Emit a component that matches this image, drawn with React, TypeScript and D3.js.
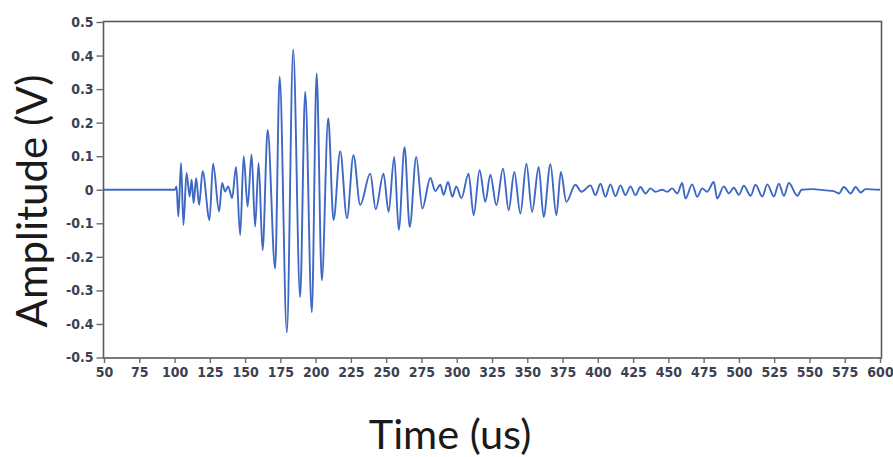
import * as d3 from "d3";
import React, { useEffect, useRef } from "react";

// turning points of the trace (time in us, amplitude in V)
const timeUs = [
  50, 100.3, 101.4, 102.7, 104.6, 106.3, 108.5, 110.7, 112.1, 113.5, 115.3, 117.4, 119.9,
  124.8, 127.3, 131.6, 133.7, 135.8, 138.0, 140.8, 143.6, 146.5, 149.0, 151.8, 154.6,
  157.1, 159.6, 162.4, 166.0, 171.3, 174.5, 179.6, 184.1, 189.0, 192.6, 197.3, 200.7,
  204.4, 208.9, 212.7, 217.4, 222.2, 226.8, 231.6, 238.7, 242.6, 248.1, 251.7, 255.7,
  258.9, 263.0, 266.7, 271.3, 275.6, 281.3, 284.8, 288.4, 290.7, 293.8, 296.9, 299.7,
  303.3, 308.4, 312.0, 316.2, 320.3, 323.8, 328.1, 332.8, 336.8, 340.8, 345.1, 349.4,
  353.4, 358.1, 361.6, 366.4, 370.6, 373.8, 377.7, 384.1, 388.4, 394.8, 398.3, 401.9,
  405.4, 408.9, 412.5, 416.0, 419.6, 423.1, 426.7, 430.2, 433.8, 437.3, 440.9, 445.6,
  449.2, 452.7, 456.3, 459.8, 462.1, 466.9, 470.4, 474.0, 477.5, 482.2, 484.6, 489.3,
  492.9, 496.4, 500.0, 503.5, 508.3, 511.8, 516.6, 520.1, 524.8, 528.3, 531.9, 535.4,
  541.4, 544.4, 552.2, 561.5, 567.1, 570.9, 574.4, 579.2, 582.7, 586.3, 589.8, 600,
];
const amplitudeV = [
  0, 0, 0.01, -0.08, 0.08, -0.105, 0.05, -0.02, 0.03, -0.04, 0.035, -0.045, 0.055,
  -0.09, 0.078, -0.065, 0.02, -0.005, 0.01, -0.025, 0.068, -0.135, 0.1, -0.05, 0.105,
  -0.11, 0.08, -0.18, 0.178, -0.235, 0.337, -0.425, 0.418, -0.32, 0.292, -0.365, 0.347,
  -0.27, 0.213, -0.09, 0.115, -0.085, 0.103, -0.045, 0.048, -0.058, 0.048, -0.066, 0.098,
  -0.12, 0.127, -0.111, 0.098, -0.056, 0.035, -0.004, 0.015, -0.015, 0.023, -0.021, 0.01,
  -0.025, 0.048, -0.076, 0.058, -0.036, 0.045, -0.046, 0.063, -0.061, 0.053, -0.071, 0.078,
  -0.066, 0.068, -0.081, 0.076, -0.076, 0.053, -0.036, 0.015, -0.006, 0.013, -0.016, 0.018,
  -0.021, 0.016, -0.019, 0.013, -0.016, 0.01, -0.016, 0.008, -0.011, 0.004, -0.006, 0.0,
  -0.006, 0.004, -0.011, 0.02, -0.026, 0.016, -0.021, 0.004, -0.006, 0.023, -0.026, 0.01,
  -0.011, 0.006, -0.015, 0.012, -0.018, 0.015, -0.02, 0.016, -0.02, 0.018, -0.018, 0.02,
  -0.018, 0.0, 0.002, -0.002, -0.004, -0.011, 0.008, -0.011, 0.008, -0.008, 0.002, 0,
];

const xTicks = [50, 75, 100, 125, 150, 175, 200, 225, 250, 275, 300, 325, 350, 375, 400, 425, 450, 475, 500, 525, 550, 575, 600];
const yTicks = [0.5, 0.4, 0.3, 0.2, 0.1, 0, -0.1, -0.2, -0.3, -0.4, -0.5];
const yTickLabels = ["0.5", "0.4", "0.3", "0.2", "0.1", "0", "-0.1", "-0.2", "-0.3", "-0.4", "-0.5"];

const width = 893;
const height = 457;
const tickFont = "'DejaVu Sans Condensed', 'DejaVu Sans', sans-serif";
const titleFont = "Lato, 'Open Sans', sans-serif";

const App = () => {
  const svgRef = useRef<SVGSVGElement>(null);

  useEffect(() => {
    const svg = d3.select(svgRef.current);
    svg.selectAll("*").remove();

    const x = d3.scaleLinear().domain([50, 600]).range([104, 880]);
    const y = d3.scaleLinear().domain([-0.5, 0.5]).range([357.5, 22]);

    const data = timeUs.map((t, i) => ({ t, v: amplitudeV[i] }));

    // trace
    const line = d3
      .line<{ t: number; v: number }>()
      .x((d) => x(d.t))
      .y((d) => y(d.v))
      .curve(d3.curveMonotoneX);

    svg
      .append("path")
      .datum(data)
      .attr("d", line)
      .attr("fill", "none")
      .attr("stroke", "#3f68c4")
      .attr("stroke-width", 1.9)
      .attr("stroke-linejoin", "round");

    // frame
    svg
      .append("rect")
      .attr("x", 103.5)
      .attr("y", 21.5)
      .attr("width", 881.5 - 103.5)
      .attr("height", 358 - 21.5)
      .attr("fill", "none")
      .attr("stroke", "#5a5a5a")
      .attr("stroke-width", 1.6);

    // x axis
    const gx = svg
      .append("g")
      .attr("transform", "translate(0,358)")
      .call(d3.axisBottom(x).tickValues(xTicks).tickSize(5).tickPadding(4).tickFormat(d3.format("d")));

    // y axis
    const gy = svg
      .append("g")
      .attr("transform", "translate(103.5,0)")
      .call(
        d3
          .axisLeft(y)
          .tickValues(yTicks)
          .tickSize(7)
          .tickPadding(3)
          .tickFormat((d, i) => yTickLabels[i])
      );

    [gx, gy].forEach((g) => {
      g.select(".domain").remove();
      g.selectAll(".tick line").attr("stroke", "#6a6a6a").attr("stroke-width", 1.4);
      g.selectAll(".tick text")
        .attr("fill", "#3c4150")
        .attr("font-size", 14)
        .attr("font-weight", "bold")
        .attr("font-family", tickFont);
    });

    // titles
    svg
      .append("text")
      .attr("x", 450)
      .attr("y", 449)
      .attr("text-anchor", "middle")
      .attr("font-family", titleFont)
      .attr("font-size", 41.5)
      .attr("fill", "#1a1a1a")
      .text("Time (us)");

    svg
      .append("text")
      .attr("transform", "translate(47,201) rotate(-90)")
      .attr("text-anchor", "middle")
      .attr("font-family", titleFont)
      .attr("font-size", 42)
      .attr("fill", "#1a1a1a")
      .text("Amplitude (V)");
  }, []);

  return (
    <div style={{ position: "absolute", left: 0, top: 0 }}>
      <svg ref={svgRef} width={width} height={height} style={{ display: "block", background: "#fff" }} />
    </div>
  );
};

export default App;
